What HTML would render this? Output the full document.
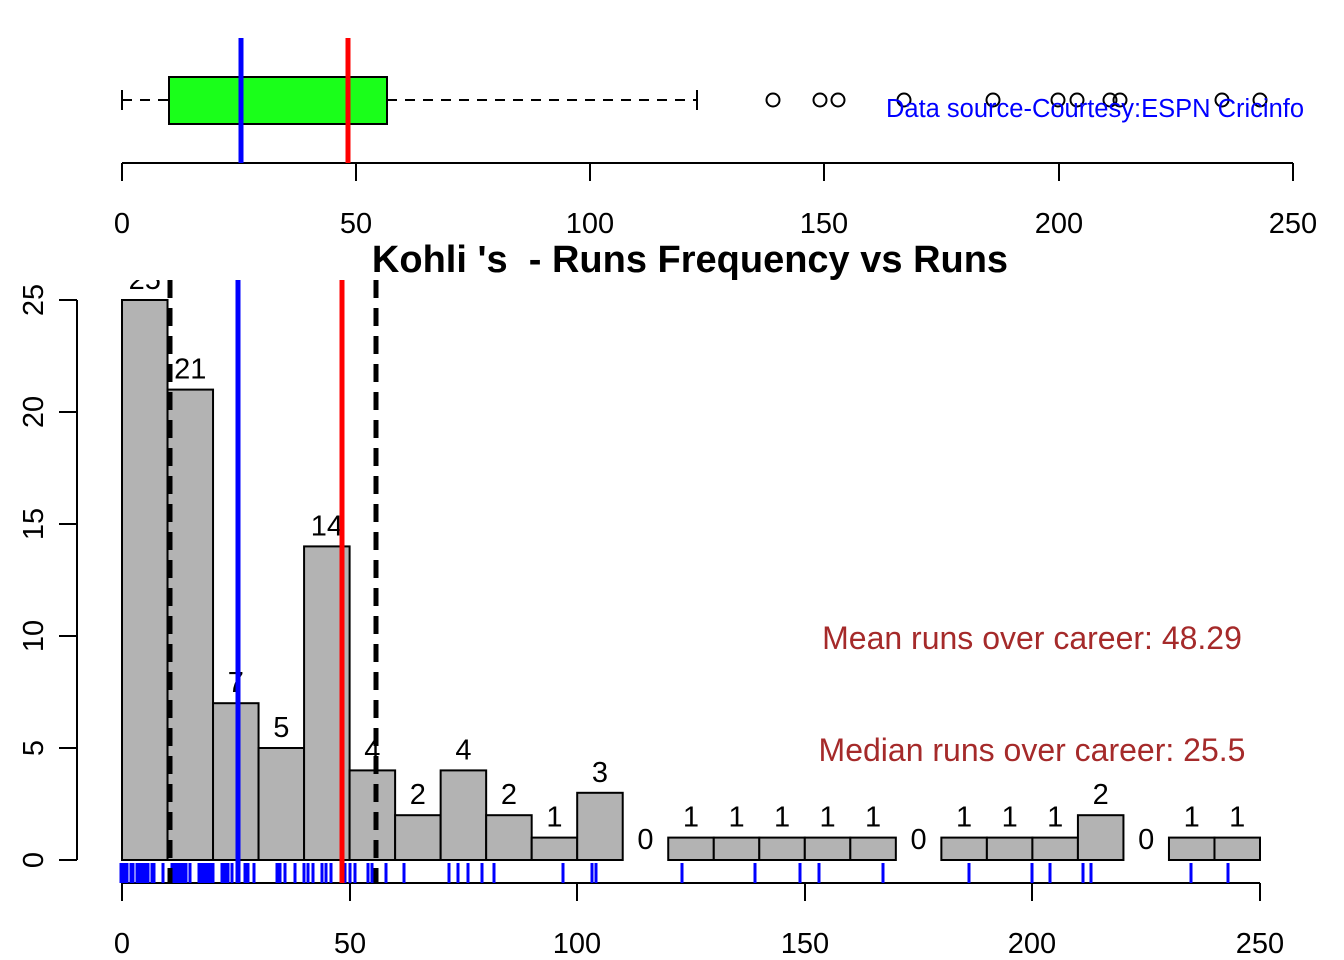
<!DOCTYPE html>
<html><head><meta charset="utf-8"><style>body{margin:0;background:#fff}svg{display:block}text{font-family:"Liberation Sans",Arial,sans-serif}</style></head><body>
<svg width="1344" height="960" xmlns="http://www.w3.org/2000/svg">
<defs><clipPath id="pc"><rect x="0" y="280" width="1344" height="680"/></clipPath></defs>
<g stroke="#000" stroke-width="2" fill="none">
<line x1="122" y1="100" x2="169" y2="100" stroke-dasharray="10,8"/>
<line x1="387" y1="100" x2="697" y2="100" stroke-dasharray="10,8"/>
<line x1="122" y1="90" x2="122" y2="110"/><line x1="697" y1="90" x2="697" y2="110"/>
<rect x="169" y="77" width="218" height="47" fill="#1aff1a"/>
<line x1="122" y1="163" x2="1293" y2="163"/>
<line x1="122" y1="163" x2="122" y2="181"/><line x1="356" y1="163" x2="356" y2="181"/><line x1="590" y1="163" x2="590" y2="181"/><line x1="824" y1="163" x2="824" y2="181"/><line x1="1059" y1="163" x2="1059" y2="181"/><line x1="1293" y1="163" x2="1293" y2="181"/>
<circle cx="773" cy="100" r="6.5"/><circle cx="820" cy="100" r="6.5"/><circle cx="838" cy="100" r="6.5"/><circle cx="904" cy="100" r="6.5"/><circle cx="993" cy="100" r="6.5"/><circle cx="1058" cy="100" r="6.5"/><circle cx="1077" cy="100" r="6.5"/><circle cx="1110" cy="100" r="6.5"/><circle cx="1120" cy="100" r="6.5"/><circle cx="1222" cy="100" r="6.5"/><circle cx="1260" cy="100" r="6.5"/>
</g>
<line x1="241" y1="38" x2="241" y2="163" stroke="#00f" stroke-width="5"/>
<line x1="348" y1="38" x2="348" y2="163" stroke="#f00" stroke-width="5"/>
<text x="1095" y="117" font-size="25.5" fill="#00f" text-anchor="middle">Data source-Courtesy:ESPN Cricinfo</text>
<g font-size="29" text-anchor="middle"><text x="122" y="233">0</text><text x="356" y="233">50</text><text x="590" y="233">100</text><text x="824" y="233">150</text><text x="1059" y="233">200</text><text x="1293" y="233">250</text></g>
<text x="690" y="272" font-size="38" font-weight="bold" text-anchor="middle" xml:space="preserve">Kohli 's  - Runs Frequency vs Runs</text>
<g id="bars" fill="#b3b3b3" stroke="#000" stroke-width="2"></g>
<g id="lbl" font-size="29" text-anchor="middle" clip-path="url(#pc)"></g>
<g stroke="#000" stroke-width="2">
<line x1="77" y1="300" x2="77" y2="860"/>
<line x1="59" y1="860" x2="77" y2="860"/><line x1="59" y1="748" x2="77" y2="748"/><line x1="59" y1="636" x2="77" y2="636"/><line x1="59" y1="524" x2="77" y2="524"/><line x1="59" y1="412" x2="77" y2="412"/><line x1="59" y1="300" x2="77" y2="300"/>
<line x1="122" y1="883" x2="1260" y2="883"/>
<line x1="122" y1="883" x2="122" y2="901"/><line x1="350" y1="883" x2="350" y2="901"/><line x1="577" y1="883" x2="577" y2="901"/><line x1="805" y1="883" x2="805" y2="901"/><line x1="1032" y1="883" x2="1032" y2="901"/><line x1="1260" y1="883" x2="1260" y2="901"/>
</g>
<g font-size="29" text-anchor="middle">
<text transform="translate(43,860) rotate(-90)">0</text><text transform="translate(43,748) rotate(-90)">5</text><text transform="translate(43,636) rotate(-90)">10</text><text transform="translate(43,524) rotate(-90)">15</text><text transform="translate(43,412) rotate(-90)">20</text><text transform="translate(43,300) rotate(-90)">25</text>
<text x="122" y="953">0</text><text x="350" y="953">50</text><text x="577" y="953">100</text><text x="805" y="953">150</text><text x="1032" y="953">200</text><text x="1260" y="953">250</text>
</g>
<g id="rug" stroke="#00f" stroke-width="3"></g>
<line x1="170" y1="280" x2="170" y2="883" stroke="#000" stroke-width="5" stroke-dasharray="18,10"/>
<line x1="376" y1="280" x2="376" y2="883" stroke="#000" stroke-width="5" stroke-dasharray="18,10"/>
<line x1="238" y1="280" x2="238" y2="883" stroke="#00f" stroke-width="5"/>
<line x1="342" y1="280" x2="342" y2="883" stroke="#f00" stroke-width="5"/>
<text x="1032" y="649" font-size="32" fill="#a52a2a" text-anchor="middle">Mean runs over career: 48.29</text>
<text x="1032" y="761" font-size="32" fill="#a52a2a" text-anchor="middle">Median runs over career: 25.5</text>
</svg>
<script>
var c=[25,21,7,5,14,4,2,4,2,1,3,0,1,1,1,1,1,0,1,1,1,2,0,1,1];
var ns="http://www.w3.org/2000/svg",b=document.getElementById('bars'),l=document.getElementById('lbl');
c.forEach(function(v,i){var x=122+i*45.52,h=v*22.4;
if(v>0){var r=document.createElementNS(ns,'rect');r.setAttribute('x',x);r.setAttribute('y',860-h);r.setAttribute('width',45.52);r.setAttribute('height',h);b.appendChild(r);}
var t=document.createElementNS(ns,'text');t.setAttribute('x',x+22.76);t.setAttribute('y',860-h-11);t.textContent=v;l.appendChild(t);});
var rx=[121,124,127,131,133,137,139,142,145,148,152,154,163,172,175,177,180,183,186,190,199,202,205,207,210,213,222,225,228,232,245,248,254,277,280,285,295,304,308,313,322,326,331,345,350,355,368,372,386,404,449,458,468,482,494,563,592,596,682,755,800,819,883,969,1032,1050,1083,1091,1191,1228];
var g=document.getElementById('rug');rx.forEach(function(x){var e=document.createElementNS(ns,'line');e.setAttribute('x1',x);e.setAttribute('x2',x);e.setAttribute('y1',863);e.setAttribute('y2',883);g.appendChild(e);});
</script>
</body></html>
